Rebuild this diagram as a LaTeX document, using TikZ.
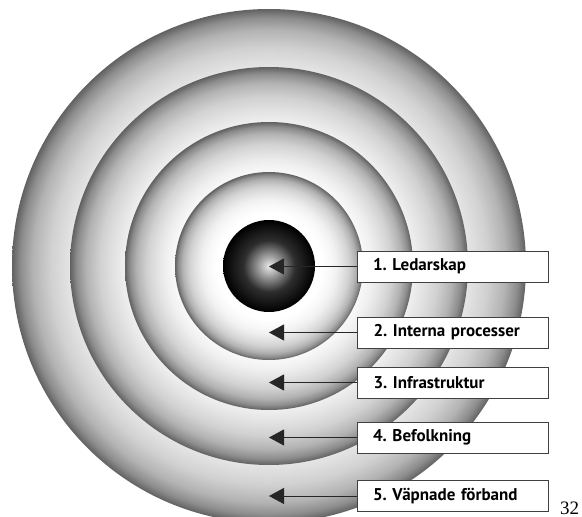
\documentclass[tikz,border=0pt]{standalone}
\usepackage{fontspec}
\newfontfamily\labelfont{PT Sans}
\newfontfamily\numfont{Liberation Serif}
\usetikzlibrary{arrows.meta,positioning}

\pgfdeclareradialshading{ringshade}{\pgfpoint{0bp}{0bp}}{%
  color(0bp)=(white); color(14bp)=(white); color(16.5bp)=(black!3);
  color(18bp)=(black!6); color(19.5bp)=(black!11); color(21.25bp)=(black!18);
  color(23bp)=(black!30); color(24.2bp)=(black!45); color(25bp)=(black!62);
  color(50bp)=(black!62)}
\pgfdeclareradialshading{coreshade}{\pgfpoint{0bp}{0bp}}{%
  color(0bp)=(black!8); color(5bp)=(black!35); color(14bp)=(black!82);
  color(25bp)=(black); color(50bp)=(black)}

\begin{document}
\frenchspacing
\begin{tikzpicture}[x=1pt,y=-1pt,
  ring/.style={shading=ringshade},
  core/.style={shading=coreshade},
  tagbox/.style={draw=black!75, line width=1pt, fill=white, minimum height=31pt,
    text width=191pt, inner xsep=0pt, align=left, anchor=west,
    font=\labelfont\bfseries\fontsize{17}{20}\selectfont, execute at begin node={\hspace*{16pt}}},
  pointer/.style={-{Triangle[length=15pt,width=16pt]}, draw=black!85, line width=0.9pt},
  ]
  \useasboundingbox (0,0) rectangle (582,517);
  \coordinate (ctr) at (269,266);

  % Rings, outermost first
  \shade[ring] (ctr) circle[radius=257];
  \shade[ring] (ctr) circle[radius=199];
  \shade[ring] (ctr) circle[radius=144];
  \shade[ring] (ctr) circle[radius=94];
  % Core
  \shade[core] (ctr) circle[radius=46];

  % Labels
  \node[tagbox] (lead) at (356.5,266.5) {1. Ledarskap};
  \node[tagbox] (proc) at (357,332.5) {2. Interna processer};
  \node[tagbox] (infra) at (357,382.5) {3. Infrastruktur};
  \node[tagbox] (pop) at (356.5,437.5) {4. Befolkning};
  \node[tagbox] (force) at (356.5,496) {5. Väpnade förband};

  % Pointers into the rings
  \draw[pointer] (lead.west) -- (lead.west -| ctr);
  \draw[pointer] (proc.west) -- (proc.west -| ctr);
  \draw[pointer] (infra.west) -- (infra.west -| ctr);
  \draw[pointer] (pop.west) -- (pop.west -| ctr);
  \draw[pointer] (force.west) -- (force.west -| ctr);

  % Page number
  \node[font=\numfont\fontsize{19}{21}\selectfont, anchor=base west, inner sep=0pt] (pagenum) at (560,514) {32};
\end{tikzpicture}
\end{document}
